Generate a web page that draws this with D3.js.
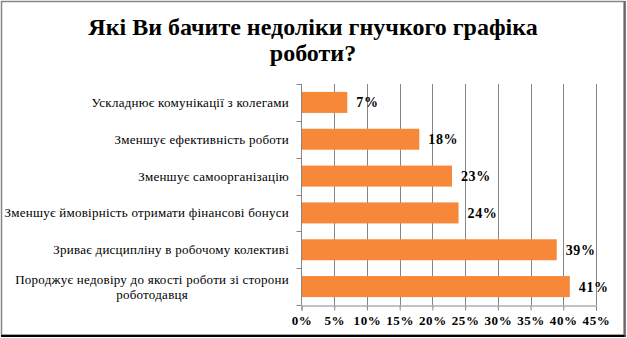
<!DOCTYPE html>
<html><head><meta charset="utf-8">
<script src="https://cdn.jsdelivr.net/npm/d3@7"></script>
<style>body{margin:0;background:#fff}svg{display:block}</style>
</head><body>
<script>
const categories = [
  "Ускладнює комунікації з колегами",
  "Зменшує ефективність роботи",
  "Зменшує самоорганізацію",
  "Зменшує ймовірність отримати фінансові бонуси",
  "Зриває дисципліну в робочому колективі",
  "Породжує недовіру до якості роботи зі сторони роботодавця"
];
const values = [7, 18, 23, 24, 39, 41];
const xTicks = [0, 5, 10, 15, 20, 25, 30, 35, 40, 45];
const titleLines = ["Які Ви бачите недоліки гнучкого графіка", "роботи?"];

const W = 627, H = 338;
const svg = d3.select("body").append("svg").attr("width", W).attr("height", H);
const serif = "Liberation Serif";

// border
svg.append("rect").attr("x",1.5).attr("y",1.5).attr("width",622.5).attr("height",333.5)
  .attr("fill","#fff").attr("stroke","#868686").attr("stroke-width",1.5);
svg.append("line").attr("x1",1).attr("x2",626).attr("y1",336).attr("y2",336).attr("stroke","#000").attr("stroke-width",2);
svg.append("line").attr("x1",625).attr("x2",625).attr("y1",1).attr("y2",337).attr("stroke","#555").attr("stroke-width",1.5);

// title
const title = svg.append("text").attr("text-anchor","middle")
  .attr("font-family",serif).attr("font-weight","bold").attr("font-size",24);
title.selectAll("tspan").data(titleLines).join("tspan")
  .attr("x",313).attr("y",(d,i)=> 34.5 + i*26).text(d=>d);

const x = d3.scaleLinear().domain([0,45]).range([301.5,596]);
const y = d3.scaleBand().domain(categories).range([84,305]).paddingInner(0.43).paddingOuter(0.215);
const yb = d3.scaleBand().domain(categories).range([84,305]);

// gridlines
svg.append("g").selectAll("line").data(xTicks.slice(1)).join("line")
  .attr("x1",d=>Math.round(x(d))+0.5).attr("x2",d=>Math.round(x(d))+0.5)
  .attr("y1",84).attr("y2",305).attr("stroke","#868686").attr("stroke-width",1);

// bars
svg.append("g").selectAll("rect").data(values).join("rect")
  .attr("x",x(0)).attr("y",(d,i)=>y(categories[i]))
  .attr("width",d=>x(d)-x(0)).attr("height",y.bandwidth())
  .attr("fill","#F7883A");

// y axis
const yAxis = svg.append("g").attr("transform",`translate(${x(0)},0)`);
yAxis.append("line").attr("x1",0).attr("x2",0).attr("y1",84).attr("y2",305).attr("stroke","#868686");
yAxis.selectAll("line.t").data(d3.range(categories.length+1)).join("line").attr("class","t")
  .attr("x1",-5).attr("x2",0).attr("y1",i=>Math.round(84+i*yb.step())+0.5).attr("y2",i=>Math.round(84+i*yb.step())+0.5)
  .attr("stroke","#868686");

// x axis
const xAxis = d3.axisBottom(x).tickValues(xTicks).tickFormat(d=>d+"%").tickSize(5).tickPadding(5);
const gx = svg.append("g").attr("transform","translate(0,305.5)").call(xAxis);
gx.attr("font-family",serif).attr("font-size",13);
gx.select(".domain").attr("stroke","#868686");
gx.selectAll(".tick line").attr("stroke","#868686");
gx.selectAll("text").attr("fill","#000").attr("font-weight","bold").attr("letter-spacing",0.6);

// category labels with wrapping
const lblG = svg.append("g");
const LFS = 13, LLS = 0.25;
const measure = svg.append("text").attr("font-family",serif).attr("font-size",LFS).attr("letter-spacing",LLS);
function wrap(s, maxW){
  const words = s.split(" "); const lines=[]; let cur="";
  for(const w of words){
    const t = cur ? cur+" "+w : w;
    measure.text(t);
    if(measure.node().getComputedTextLength() > maxW && cur){ lines.push(cur); cur=w; } else cur=t;
  }
  lines.push(cur); return lines;
}
categories.forEach((c,i)=>{
  const lines = wrap(c, 293);
  let maxw = 0; lines.forEach(l=>{measure.text(l); maxw=Math.max(maxw, measure.node().getComputedTextLength());});
  const cx = 289 - maxw/2;
  const cy = yb(c) + yb.bandwidth()/2;
  const lh = 15;
  const t = lblG.append("text").attr("text-anchor", lines.length>1 ? "middle" : "end")
    .attr("font-family",serif).attr("font-size",LFS).attr("letter-spacing",LLS).attr("fill","#000");
  lines.forEach((l,j)=>{
    t.append("tspan").attr("x", lines.length>1 ? cx : 289)
      .attr("y", cy + (j-(lines.length-1)/2)*lh + 4.5).text(l);
  });
});
measure.remove();

// data labels
svg.append("g").selectAll("text").data(values).join("text")
  .attr("x",d=>x(d)+9).attr("y",(d,i)=>yb(categories[i])+yb.bandwidth()/2+5)
  .attr("font-family",serif).attr("font-weight","bold").attr("font-size",14).attr("letter-spacing",0.6)
  .text(d=>d+"%");
</script>
</body></html>
